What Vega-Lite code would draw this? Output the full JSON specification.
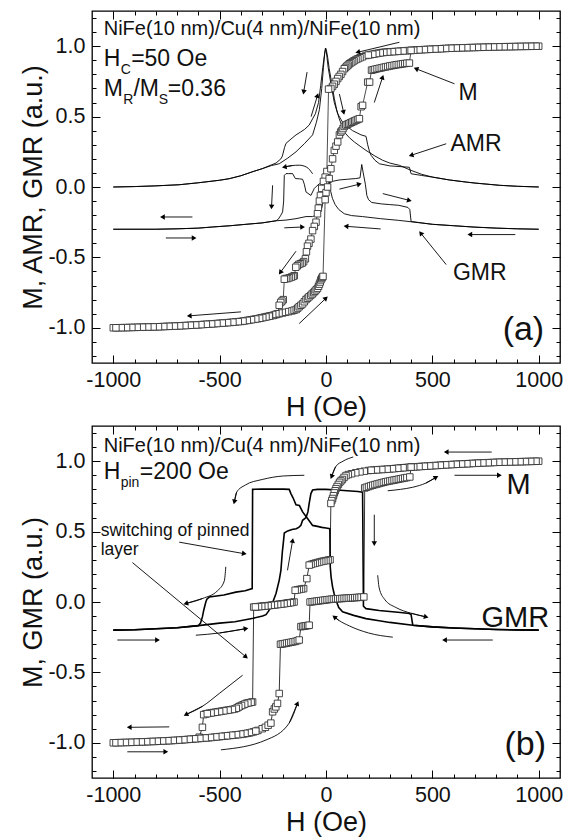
{
"$schema":"https://vega.github.io/schema/vega-lite/v6.json",
"background":"white",
"padding":{"left":19,"top":9,"right":0,"bottom":0},
"spacing":2,
"config":{"font":"Liberation Sans","view":{"stroke":"#000","strokeWidth":1.3},
"axis":{"grid":false,"domain":false,"labelFont":"Liberation Sans","labelFontSize":21.5,"labelColor":"#111","titleFont":"Liberation Sans","titleFontSize":27,"titleFontWeight":"normal","titleColor":"#111","tickColor":"#000","tickWidth":1},
"text":{"font":"Liberation Sans","color":"#111"}},
"datasets":{
"aM":[
{"s":"D","h":1000,"v":1},{"s":"D","h":975,"v":0.9995},{"s":"D","h":950,"v":0.999},{"s":"D","h":925,"v":0.9985},{"s":"D","h":900,"v":0.998},{"s":"D","h":875,"v":0.997},{"s":"D","h":850,"v":0.9965},{"s":"D","h":825,"v":0.996},{"s":"D","h":800,"v":0.995},{"s":"D","h":775,"v":0.994},{"s":"D","h":750,"v":0.993},{"s":"D","h":725,"v":0.992},{"s":"D","h":700,"v":0.991},{"s":"D","h":675,"v":0.99},{"s":"D","h":650,"v":0.989},{"s":"D","h":625,"v":0.988},{"s":"D","h":600,"v":0.986},{"s":"D","h":575,"v":0.985},{"s":"D","h":550,"v":0.983},{"s":"D","h":525,"v":0.981},{"s":"D","h":500,"v":0.979},{"s":"D","h":475,"v":0.977},{"s":"D","h":450,"v":0.975},{"s":"D","h":425,"v":0.973},{"s":"D","h":400,"v":0.97},{"s":"D","h":375,"v":0.968},{"s":"D","h":350,"v":0.965},{"s":"D","h":325,"v":0.962},{"s":"D","h":300,"v":0.96},{"s":"D","h":280,"v":0.957},{"s":"D","h":265,"v":0.955},{"s":"D","h":245,"v":0.95},{"s":"D","h":230,"v":0.946},{"s":"D","h":210,"v":0.94},{"s":"D","h":188,"v":0.934},{"s":"D","h":172,"v":0.925},{"s":"D","h":160,"v":0.918},{"s":"D","h":150,"v":0.911},{"s":"D","h":141,"v":0.905},{"s":"D","h":132,"v":0.897},{"s":"D","h":125,"v":0.89},{"s":"D","h":117,"v":0.882},{"s":"D","h":110,"v":0.875},{"s":"D","h":104,"v":0.866},{"s":"D","h":98,"v":0.858},{"s":"D","h":92,"v":0.849},{"s":"D","h":86,"v":0.84},{"s":"D","h":78,"v":0.82},{"s":"D","h":70,"v":0.8},{"s":"D","h":62,"v":0.785},{"s":"D","h":55,"v":0.77},{"s":"D","h":47,"v":0.75},{"s":"D","h":39,"v":0.73},{"s":"D","h":31,"v":0.715},{"s":"D","h":23,"v":0.7},{"s":"D","h":12,"v":0.695},{"s":"D","h":4,"v":0.11},{"s":"D","h":-4,"v":0.07},{"s":"D","h":-12,"v":0.04},{"s":"D","h":-20,"v":-0.01},{"s":"D","h":-26,"v":-0.06},{"s":"D","h":-31,"v":-0.1},{"s":"D","h":-36,"v":-0.15},{"s":"D","h":-40,"v":-0.19},{"s":"D","h":-47,"v":-0.25},{"s":"D","h":-55,"v":-0.28},{"s":"D","h":-63,"v":-0.31},{"s":"D","h":-71,"v":-0.37},{"s":"D","h":-80,"v":-0.4},{"s":"D","h":-87,"v":-0.42},{"s":"D","h":-92,"v":-0.46},{"s":"D","h":-97,"v":-0.51},{"s":"D","h":-105,"v":-0.53},{"s":"D","h":-112,"v":-0.54},{"s":"D","h":-120,"v":-0.545},{"s":"D","h":-128,"v":-0.55},{"s":"D","h":-135,"v":-0.56},{"s":"D","h":-142,"v":-0.57},{"s":"D","h":-149,"v":-0.63},{"s":"D","h":-155,"v":-0.635},{"s":"D","h":-163,"v":-0.64},{"s":"D","h":-172,"v":-0.645},{"s":"D","h":-180,"v":-0.65},{"s":"D","h":-188,"v":-0.65},{"s":"D","h":-196,"v":-0.655},{"s":"D","h":-201,"v":-0.8},{"s":"D","h":-207,"v":-0.81},{"s":"D","h":-213,"v":-0.82},{"s":"D","h":-220,"v":-0.84},{"s":"D","h":-226,"v":-0.9},{"s":"D","h":-235,"v":-0.905},{"s":"D","h":-245,"v":-0.91},{"s":"D","h":-260,"v":-0.915},{"s":"D","h":-275,"v":-0.92},{"s":"D","h":-290,"v":-0.925},{"s":"D","h":-305,"v":-0.93},{"s":"D","h":-320,"v":-0.935},{"s":"D","h":-340,"v":-0.94},{"s":"D","h":-360,"v":-0.945},{"s":"D","h":-380,"v":-0.95},{"s":"D","h":-400,"v":-0.955},{"s":"D","h":-425,"v":-0.958},{"s":"D","h":-450,"v":-0.962},{"s":"D","h":-475,"v":-0.965},{"s":"D","h":-500,"v":-0.968},{"s":"D","h":-525,"v":-0.971},{"s":"D","h":-550,"v":-0.974},{"s":"D","h":-575,"v":-0.976},{"s":"D","h":-600,"v":-0.979},{"s":"D","h":-625,"v":-0.981},{"s":"D","h":-650,"v":-0.983},{"s":"D","h":-675,"v":-0.985},{"s":"D","h":-700,"v":-0.987},{"s":"D","h":-725,"v":-0.989},{"s":"D","h":-750,"v":-0.99},{"s":"D","h":-775,"v":-0.992},{"s":"D","h":-800,"v":-0.993},{"s":"D","h":-825,"v":-0.994},{"s":"D","h":-850,"v":-0.995},{"s":"D","h":-875,"v":-0.996},{"s":"D","h":-900,"v":-0.997},{"s":"D","h":-925,"v":-0.998},{"s":"D","h":-950,"v":-0.999},{"s":"D","h":-975,"v":-0.9995},{"s":"D","h":-1000,"v":-1},
{"s":"D","h":987.5,"v":0.9998},{"s":"D","h":962.5,"v":0.9993},{"s":"D","h":937.5,"v":0.9988},{"s":"D","h":912.5,"v":0.9983},{"s":"D","h":887.5,"v":0.9975},{"s":"D","h":862.5,"v":0.9968},{"s":"D","h":837.5,"v":0.9963},{"s":"D","h":812.5,"v":0.9955},{"s":"D","h":787.5,"v":0.9945},{"s":"D","h":762.5,"v":0.9935},{"s":"D","h":737.5,"v":0.9925},{"s":"D","h":712.5,"v":0.9915},{"s":"D","h":687.5,"v":0.9905},{"s":"D","h":662.5,"v":0.9895},{"s":"D","h":637.5,"v":0.9885},{"s":"D","h":612.5,"v":0.987},{"s":"D","h":587.5,"v":0.9855},{"s":"D","h":562.5,"v":0.984},{"s":"D","h":537.5,"v":0.982},{"s":"D","h":512.5,"v":0.98},{"s":"D","h":487.5,"v":0.978},{"s":"D","h":462.5,"v":0.976},{"s":"D","h":437.5,"v":0.974},{"s":"D","h":412.5,"v":0.9715},{"s":"D","h":387.5,"v":0.969},{"s":"D","h":362.5,"v":0.9665},{"s":"D","h":337.5,"v":0.9635},{"s":"D","h":312.5,"v":0.961},{"s":"D","h":290,"v":0.9585},{"s":"D","h":272,"v":0.956},{"s":"D","h":255,"v":0.9525},{"s":"D","h":237,"v":0.948},{"s":"D","h":220,"v":0.943},{"s":"D","h":199,"v":0.937},
{"s":"D","h":-250,"v":-0.9125},{"s":"D","h":-267,"v":-0.9175},{"s":"D","h":-282,"v":-0.9225},{"s":"D","h":-297,"v":-0.9275},{"s":"D","h":-312,"v":-0.9325},{"s":"D","h":-330,"v":-0.9375},{"s":"D","h":-350,"v":-0.9425},{"s":"D","h":-370,"v":-0.9475},{"s":"D","h":-390,"v":-0.9525},{"s":"D","h":-412.5,"v":-0.9565},{"s":"D","h":-437.5,"v":-0.96},{"s":"D","h":-462.5,"v":-0.9635},{"s":"D","h":-487.5,"v":-0.9665},{"s":"D","h":-512.5,"v":-0.9695},{"s":"D","h":-537.5,"v":-0.9725},{"s":"D","h":-562.5,"v":-0.975},{"s":"D","h":-587.5,"v":-0.9775},{"s":"D","h":-612.5,"v":-0.98},{"s":"D","h":-637.5,"v":-0.982},{"s":"D","h":-662.5,"v":-0.984},{"s":"D","h":-687.5,"v":-0.986},{"s":"D","h":-712.5,"v":-0.988},{"s":"D","h":-737.5,"v":-0.9895},{"s":"D","h":-762.5,"v":-0.991},{"s":"D","h":-787.5,"v":-0.9925},{"s":"D","h":-812.5,"v":-0.9935},{"s":"D","h":-837.5,"v":-0.9945},{"s":"D","h":-862.5,"v":-0.9955},{"s":"D","h":-887.5,"v":-0.9965},{"s":"D","h":-912.5,"v":-0.9975},{"s":"D","h":-937.5,"v":-0.9985},{"s":"D","h":-962.5,"v":-0.9992},{"s":"D","h":-987.5,"v":-0.9998},
{"s":"A","h":-235,"v":-0.905},{"s":"A","h":-220,"v":-0.9},{"s":"A","h":-205,"v":-0.895},{"s":"A","h":-190,"v":-0.89},{"s":"A","h":-175,"v":-0.885},{"s":"A","h":-160,"v":-0.88},{"s":"A","h":-150,"v":-0.875},{"s":"A","h":-140,"v":-0.87},{"s":"A","h":-133,"v":-0.86},{"s":"A","h":-126,"v":-0.85},{"s":"A","h":-118,"v":-0.84},{"s":"A","h":-110,"v":-0.83},{"s":"A","h":-102,"v":-0.815},{"s":"A","h":-94,"v":-0.8},{"s":"A","h":-87,"v":-0.79},{"s":"A","h":-80,"v":-0.78},{"s":"A","h":-72,"v":-0.77},{"s":"A","h":-65,"v":-0.76},{"s":"A","h":-58,"v":-0.75},{"s":"A","h":-52,"v":-0.74},{"s":"A","h":-46,"v":-0.73},{"s":"A","h":-40,"v":-0.72},{"s":"A","h":-35,"v":-0.705},{"s":"A","h":-31,"v":-0.69},{"s":"A","h":-27,"v":-0.675},{"s":"A","h":-24,"v":-0.66},{"s":"A","h":-20,"v":-0.65},{"s":"A","h":-17,"v":-0.64},{"s":"A","h":-14,"v":-0.635},{"s":"A","h":-4,"v":-0.09},{"s":"A","h":0,"v":-0.04},{"s":"A","h":7.5,"v":0},{"s":"A","h":15,"v":0.06},{"s":"A","h":23,"v":0.13},{"s":"A","h":31,"v":0.2},{"s":"A","h":39,"v":0.26},{"s":"A","h":47,"v":0.29},{"s":"A","h":55,"v":0.32},{"s":"A","h":63,"v":0.37},{"s":"A","h":69,"v":0.39},{"s":"A","h":75,"v":0.4},{"s":"A","h":80,"v":0.415},{"s":"A","h":86,"v":0.43},{"s":"A","h":93,"v":0.44},{"s":"A","h":100,"v":0.445},{"s":"A","h":107,"v":0.45},{"s":"A","h":114,"v":0.455},{"s":"A","h":121,"v":0.46},{"s":"A","h":128,"v":0.465},{"s":"A","h":135,"v":0.47},{"s":"A","h":142,"v":0.475},{"s":"A","h":150,"v":0.48},{"s":"A","h":157,"v":0.485},{"s":"A","h":165,"v":0.57},{"s":"A","h":172,"v":0.58},{"s":"A","h":196,"v":0.745},{"s":"A","h":205,"v":0.745},{"s":"A","h":214,"v":0.83},{"s":"A","h":222,"v":0.833},{"s":"A","h":230,"v":0.836},{"s":"A","h":240,"v":0.84},{"s":"A","h":250,"v":0.843},{"s":"A","h":260,"v":0.846},{"s":"A","h":270,"v":0.85},{"s":"A","h":280,"v":0.853},{"s":"A","h":290,"v":0.856},{"s":"A","h":300,"v":0.86},{"s":"A","h":310,"v":0.862},{"s":"A","h":320,"v":0.865},{"s":"A","h":330,"v":0.868},{"s":"A","h":340,"v":0.87},{"s":"A","h":350,"v":0.872},{"s":"A","h":360,"v":0.875},{"s":"A","h":370,"v":0.877},{"s":"A","h":380,"v":0.879},{"s":"A","h":392,"v":0.88},{"s":"A","h":400,"v":0.97}
],
"aL":[
{"s":"AMRd","h":1000,"v":0},{"s":"AMRd","h":900,"v":0.005},{"s":"AMRd","h":816,"v":0.012},{"s":"AMRd","h":700,"v":0.028},{"s":"AMRd","h":659,"v":0.035},{"s":"AMRd","h":580,"v":0.05},{"s":"AMRd","h":502,"v":0.07},{"s":"AMRd","h":450,"v":0.09},{"s":"AMRd","h":400,"v":0.118},{"s":"AMRd","h":345,"v":0.154},{"s":"AMRd","h":300,"v":0.17},{"s":"AMRd","h":266,"v":0.19},{"s":"AMRd","h":230,"v":0.22},{"s":"AMRd","h":188,"v":0.26},{"s":"AMRd","h":160,"v":0.29},{"s":"AMRd","h":133,"v":0.32},{"s":"AMRd","h":110,"v":0.35},{"s":"AMRd","h":86,"v":0.39},{"s":"AMRd","h":62,"v":0.485},{"s":"AMRd","h":50,"v":0.55},{"s":"AMRd","h":39,"v":0.63},{"s":"AMRd","h":28,"v":0.73},{"s":"AMRd","h":15,"v":0.84},{"s":"AMRd","h":8,"v":0.92},{"s":"AMRd","h":2,"v":0.97},{"s":"AMRd","h":-3,"v":0.985},{"s":"AMRd","h":-8,"v":0.93},{"s":"AMRd","h":-15,"v":0.85},{"s":"AMRd","h":-25,"v":0.72},{"s":"AMRd","h":-35,"v":0.6},{"s":"AMRd","h":-50,"v":0.52},{"s":"AMRd","h":-79,"v":0.44},{"s":"AMRd","h":-100,"v":0.41},{"s":"AMRd","h":-120,"v":0.39},{"s":"AMRd","h":-141,"v":0.37},{"s":"AMRd","h":-165,"v":0.34},{"s":"AMRd","h":-188,"v":0.31},{"s":"AMRd","h":-195,"v":0.28},{"s":"AMRd","h":-205,"v":0.22},{"s":"AMRd","h":-212,"v":0.2},{"s":"AMRd","h":-235,"v":0.17},{"s":"AMRd","h":-257,"v":0.157},{"s":"AMRd","h":-300,"v":0.13},{"s":"AMRd","h":-342,"v":0.11},{"s":"AMRd","h":-400,"v":0.08},{"s":"AMRd","h":-455,"v":0.059},{"s":"AMRd","h":-500,"v":0.048},{"s":"AMRd","h":-600,"v":0.03},{"s":"AMRd","h":-690,"v":0.016},{"s":"AMRd","h":-800,"v":0.008},{"s":"AMRd","h":-900,"v":0.003},{"s":"AMRd","h":-1000,"v":0},
{"s":"AMRa","h":-1000,"v":0},{"s":"AMRa","h":-900,"v":0.003},{"s":"AMRa","h":-800,"v":0.008},{"s":"AMRa","h":-690,"v":0.016},{"s":"AMRa","h":-600,"v":0.03},{"s":"AMRa","h":-500,"v":0.048},{"s":"AMRa","h":-455,"v":0.059},{"s":"AMRa","h":-400,"v":0.08},{"s":"AMRa","h":-342,"v":0.11},{"s":"AMRa","h":-300,"v":0.13},{"s":"AMRa","h":-257,"v":0.152},{"s":"AMRa","h":-220,"v":0.165},{"s":"AMRa","h":-180,"v":0.205},{"s":"AMRa","h":-141,"v":0.25},{"s":"AMRa","h":-100,"v":0.31},{"s":"AMRa","h":-63,"v":0.37},{"s":"AMRa","h":-45,"v":0.46},{"s":"AMRa","h":-31,"v":0.55},{"s":"AMRa","h":-20,"v":0.7},{"s":"AMRa","h":-12,"v":0.85},{"s":"AMRa","h":-6,"v":0.95},{"s":"AMRa","h":-1,"v":0.985},{"s":"AMRa","h":4,"v":0.93},{"s":"AMRa","h":10,"v":0.85},{"s":"AMRa","h":20,"v":0.76},{"s":"AMRa","h":39,"v":0.6},{"s":"AMRa","h":55,"v":0.52},{"s":"AMRa","h":78,"v":0.46},{"s":"AMRa","h":100,"v":0.43},{"s":"AMRa","h":125,"v":0.4},{"s":"AMRa","h":165,"v":0.37},{"s":"AMRa","h":188,"v":0.36},{"s":"AMRa","h":196,"v":0.3},{"s":"AMRa","h":205,"v":0.25},{"s":"AMRa","h":212,"v":0.225},{"s":"AMRa","h":230,"v":0.19},{"s":"AMRa","h":251,"v":0.165},{"s":"AMRa","h":300,"v":0.15},{"s":"AMRa","h":376,"v":0.142},{"s":"AMRa","h":392,"v":0.14},{"s":"AMRa","h":400,"v":0.094},{"s":"AMRa","h":450,"v":0.082},{"s":"AMRa","h":502,"v":0.07},{"s":"AMRa","h":580,"v":0.05},{"s":"AMRa","h":659,"v":0.035},{"s":"AMRa","h":700,"v":0.028},{"s":"AMRa","h":816,"v":0.012},{"s":"AMRa","h":900,"v":0.005},{"s":"AMRa","h":1000,"v":0},
{"s":"GMRd","h":1000,"v":-0.3},{"s":"GMRd","h":900,"v":-0.297},{"s":"GMRd","h":800,"v":-0.292},{"s":"GMRd","h":700,"v":-0.285},{"s":"GMRd","h":600,"v":-0.275},{"s":"GMRd","h":500,"v":-0.265},{"s":"GMRd","h":400,"v":-0.247},{"s":"GMRd","h":342,"v":-0.237},{"s":"GMRd","h":257,"v":-0.225},{"s":"GMRd","h":171,"v":-0.21},{"s":"GMRd","h":120,"v":-0.203},{"s":"GMRd","h":86,"v":-0.19},{"s":"GMRd","h":60,"v":-0.16},{"s":"GMRd","h":43,"v":-0.125},{"s":"GMRd","h":30,"v":-0.08},{"s":"GMRd","h":22,"v":-0.03},{"s":"GMRd","h":15,"v":0.05},{"s":"GMRd","h":8,"v":0.14},{"s":"GMRd","h":2,"v":0.1},{"s":"GMRd","h":-3,"v":0.065},{"s":"GMRd","h":-10,"v":0.05},{"s":"GMRd","h":-20,"v":0.03},{"s":"GMRd","h":-31,"v":0.023},{"s":"GMRd","h":-45,"v":0.005},{"s":"GMRd","h":-55,"v":-0.01},{"s":"GMRd","h":-71,"v":-0.06},{"s":"GMRd","h":-94,"v":-0.035},{"s":"GMRd","h":-102,"v":0.02},{"s":"GMRd","h":-110,"v":0.055},{"s":"GMRd","h":-125,"v":0.058},{"s":"GMRd","h":-144,"v":0.06},{"s":"GMRd","h":-157,"v":0.095},{"s":"GMRd","h":-175,"v":0.095},{"s":"GMRd","h":-188,"v":0.095},{"s":"GMRd","h":-196,"v":0.083},{"s":"GMRd","h":-199,"v":-0.1},{"s":"GMRd","h":-204,"v":-0.177},{"s":"GMRd","h":-212,"v":-0.2},{"s":"GMRd","h":-225,"v":-0.23},{"s":"GMRd","h":-235,"v":-0.24},{"s":"GMRd","h":-300,"v":-0.255},{"s":"GMRd","h":-376,"v":-0.265},{"s":"GMRd","h":-450,"v":-0.275},{"s":"GMRd","h":-533,"v":-0.284},{"s":"GMRd","h":-600,"v":-0.292},{"s":"GMRd","h":-700,"v":-0.297},{"s":"GMRd","h":-800,"v":-0.3},{"s":"GMRd","h":-1000,"v":-0.3},
{"s":"GMRa","h":-1000,"v":-0.3},{"s":"GMRa","h":-800,"v":-0.3},{"s":"GMRa","h":-700,"v":-0.297},{"s":"GMRa","h":-600,"v":-0.292},{"s":"GMRa","h":-533,"v":-0.284},{"s":"GMRa","h":-450,"v":-0.275},{"s":"GMRa","h":-376,"v":-0.265},{"s":"GMRa","h":-300,"v":-0.255},{"s":"GMRa","h":-235,"v":-0.24},{"s":"GMRa","h":-188,"v":-0.235},{"s":"GMRa","h":-141,"v":-0.225},{"s":"GMRa","h":-94,"v":-0.21},{"s":"GMRa","h":-63,"v":-0.21},{"s":"GMRa","h":-31,"v":-0.19},{"s":"GMRa","h":-20,"v":-0.15},{"s":"GMRa","h":-10,"v":-0.08},{"s":"GMRa","h":-3,"v":0},{"s":"GMRa","h":3,"v":0.01},{"s":"GMRa","h":10,"v":0.02},{"s":"GMRa","h":30,"v":0.04},{"s":"GMRa","h":62,"v":0.05},{"s":"GMRa","h":100,"v":0.055},{"s":"GMRa","h":140,"v":0.06},{"s":"GMRa","h":160,"v":0.065},{"s":"GMRa","h":168,"v":0.16},{"s":"GMRa","h":175,"v":0.1},{"s":"GMRa","h":185,"v":0.02},{"s":"GMRa","h":192,"v":-0.06},{"s":"GMRa","h":200,"v":-0.09},{"s":"GMRa","h":215,"v":-0.11},{"s":"GMRa","h":260,"v":-0.12},{"s":"GMRa","h":300,"v":-0.125},{"s":"GMRa","h":342,"v":-0.13},{"s":"GMRa","h":385,"v":-0.145},{"s":"GMRa","h":394,"v":-0.16},{"s":"GMRa","h":400,"v":-0.245},{"s":"GMRa","h":450,"v":-0.255},{"s":"GMRa","h":500,"v":-0.265},{"s":"GMRa","h":600,"v":-0.275},{"s":"GMRa","h":700,"v":-0.285},{"s":"GMRa","h":800,"v":-0.292},{"s":"GMRa","h":900,"v":-0.297},{"s":"GMRa","h":1000,"v":-0.3}
],
"aArr":[
{"h":345,"v":1.028,"h2":149,"v2":0.957},{"h":63,"v":0.66,"h2":83,"v2":0.53},{"h":227,"v":0.6,"h2":266,"v2":0.78},{"h":604,"v":0.733,"h2":423,"v2":0.84},{"h":565,"v":0.307,"h2":400,"v2":0.225},{"h":63,"v":-0.015,"h2":157,"v2":0.02},{"h":267,"v":-0.047,"h2":392,"v2":-0.095},{"h":-628,"v":-0.213,"h2":-769,"v2":-0.213},{"h":-753,"v":-0.362,"h2":-620,"v2":-0.362},{"h":-196,"v":-0.29,"h2":-110,"v2":-0.284},{"h":-251,"v":0.012,"h2":-256,"v2":-0.142},{"h":-141,"v":-0.456,"h2":-215,"v2":-0.608},{"h":-400,"v":-0.887,"h2":-643,"v2":-0.915},{"h":-126,"v":-0.97,"h2":0,"v2":-0.79},{"h":-89,"v":0.816,"h2":-105,"v2":0.674},{"h":-70,"v":0.5,"h2":-40,"v2":0.65},{"h":565,"v":-0.551,"h2":445,"v2":-0.327},{"h":890,"v":-0.338,"h2":676,"v2":-0.338},{"h":257,"v":-0.298,"h2":94,"v2":-0.279},{"h":-160,"v":0.152,"h2":-196,"v2":0.142}
],
"aCur":[
{"s":"c1","h":-63,"v":0.094},{"s":"c1","h":-90,"v":0.14},{"s":"c1","h":-126,"v":0.155},{"s":"c1","h":-160,"v":0.152},{"s":"c1","h":-196,"v":0.142}
],
"aTxt":[
{"t":"NiFe(10 nm)/Cu(4 nm)/NiFe(10 nm)","h":-1045,"v":1.076,"k":"hdr"},
{"t":"H","h":-1045,"v":0.857,"k":"main"},{"t":"=50 Oe","h":-916,"v":0.857,"k":"main"},{"t":"C","h":-965,"v":0.804,"k":"sub"},
{"t":"M","h":-1045,"v":0.644,"k":"main"},{"t":"R","h":-953,"v":0.59,"k":"sub"},{"t":"/M","h":-905,"v":0.644,"k":"main"},{"t":"S","h":-786,"v":0.59,"k":"sub"},{"t":"=0.36","h":-744,"v":0.644,"k":"main"},
{"t":"M","h":668,"v":0.62,"k":"lab"},{"t":"AMR","h":705,"v":0.253,"k":"lab"},{"t":"GMR","h":723,"v":-0.658,"k":"lab"},{"t":"(a)","h":928,"v":-1.09,"k":"pan"}
],
"bM":[
{"s":"D","h":1000,"v":1},{"s":"D","h":975,"v":0.999},{"s":"D","h":950,"v":0.998},{"s":"D","h":925,"v":0.997},{"s":"D","h":900,"v":0.996},{"s":"D","h":875,"v":0.995},{"s":"D","h":850,"v":0.994},{"s":"D","h":825,"v":0.993},{"s":"D","h":800,"v":0.992},{"s":"D","h":775,"v":0.99},{"s":"D","h":750,"v":0.989},{"s":"D","h":725,"v":0.987},{"s":"D","h":700,"v":0.985},{"s":"D","h":675,"v":0.983},{"s":"D","h":650,"v":0.981},{"s":"D","h":625,"v":0.979},{"s":"D","h":600,"v":0.977},{"s":"D","h":575,"v":0.975},{"s":"D","h":550,"v":0.973},{"s":"D","h":525,"v":0.97},{"s":"D","h":500,"v":0.968},{"s":"D","h":475,"v":0.965},{"s":"D","h":450,"v":0.963},{"s":"D","h":425,"v":0.96},{"s":"D","h":400,"v":0.958},{"s":"D","h":375,"v":0.955},{"s":"D","h":350,"v":0.952},{"s":"D","h":325,"v":0.948},{"s":"D","h":300,"v":0.945},{"s":"D","h":275,"v":0.942},{"s":"D","h":250,"v":0.94},{"s":"D","h":225,"v":0.937},{"s":"D","h":200,"v":0.934},{"s":"D","h":180,"v":0.929},{"s":"D","h":160,"v":0.924},{"s":"D","h":140,"v":0.918},{"s":"D","h":120,"v":0.911},{"s":"D","h":105,"v":0.905},{"s":"D","h":94,"v":0.898},{"s":"D","h":85,"v":0.885},{"s":"D","h":77,"v":0.87},{"s":"D","h":70,"v":0.86},{"s":"D","h":64,"v":0.85},{"s":"D","h":58,"v":0.835},{"s":"D","h":52,"v":0.82},{"s":"D","h":47,"v":0.805},{"s":"D","h":43,"v":0.79},{"s":"D","h":39,"v":0.775},{"s":"D","h":35,"v":0.755},{"s":"D","h":31,"v":0.735},{"s":"D","h":27,"v":0.72},{"s":"D","h":23,"v":0.7},{"s":"D","h":19,"v":0.3},{"s":"D","h":10,"v":0.297},{"s":"D","h":0,"v":0.294},{"s":"D","h":-10,"v":0.291},{"s":"D","h":-20,"v":0.288},{"s":"D","h":-30,"v":0.284},{"s":"D","h":-40,"v":0.28},{"s":"D","h":-50,"v":0.276},{"s":"D","h":-60,"v":0.272},{"s":"D","h":-70,"v":0.267},{"s":"D","h":-79,"v":0.262},{"s":"D","h":-90,"v":0.166},{"s":"D","h":-105,"v":0.095},{"s":"D","h":-115,"v":0.092},{"s":"D","h":-125,"v":0.089},{"s":"D","h":-135,"v":0.086},{"s":"D","h":-145,"v":0.083},{"s":"D","h":-150,"v":0},{"s":"D","h":-160,"v":-0.003},{"s":"D","h":-175,"v":-0.006},{"s":"D","h":-190,"v":-0.01},{"s":"D","h":-205,"v":-0.013},{"s":"D","h":-220,"v":-0.016},{"s":"D","h":-235,"v":-0.019},{"s":"D","h":-250,"v":-0.022},{"s":"D","h":-265,"v":-0.025},{"s":"D","h":-280,"v":-0.028},{"s":"D","h":-295,"v":-0.03},{"s":"D","h":-310,"v":-0.032},{"s":"D","h":-325,"v":-0.034},{"s":"D","h":-340,"v":-0.036},{"s":"D","h":-345,"v":-0.71},{"s":"D","h":-360,"v":-0.715},{"s":"D","h":-375,"v":-0.72},{"s":"D","h":-390,"v":-0.73},{"s":"D","h":-405,"v":-0.74},{"s":"D","h":-415,"v":-0.75},{"s":"D","h":-430,"v":-0.76},{"s":"D","h":-450,"v":-0.765},{"s":"D","h":-470,"v":-0.77},{"s":"D","h":-490,"v":-0.775},{"s":"D","h":-510,"v":-0.78},{"s":"D","h":-530,"v":-0.785},{"s":"D","h":-550,"v":-0.79},{"s":"D","h":-565,"v":-0.795},{"s":"D","h":-575,"v":-0.8},{"s":"D","h":-581,"v":-0.89},{"s":"D","h":-596,"v":-0.96},
{"s":"D","h":987.5,"v":0.9995},{"s":"D","h":962.5,"v":0.9985},{"s":"D","h":937.5,"v":0.9975},{"s":"D","h":912.5,"v":0.9965},{"s":"D","h":887.5,"v":0.9955},{"s":"D","h":862.5,"v":0.9945},{"s":"D","h":837.5,"v":0.9935},{"s":"D","h":812.5,"v":0.9925},{"s":"D","h":787.5,"v":0.991},{"s":"D","h":762.5,"v":0.9895},{"s":"D","h":737.5,"v":0.988},{"s":"D","h":712.5,"v":0.986},{"s":"D","h":687.5,"v":0.984},{"s":"D","h":662.5,"v":0.982},{"s":"D","h":637.5,"v":0.98},{"s":"D","h":612.5,"v":0.978},{"s":"D","h":587.5,"v":0.976},{"s":"D","h":562.5,"v":0.974},{"s":"D","h":537.5,"v":0.9715},{"s":"D","h":512.5,"v":0.969},{"s":"D","h":487.5,"v":0.9665},{"s":"D","h":462.5,"v":0.964},{"s":"D","h":437.5,"v":0.9615},{"s":"D","h":412.5,"v":0.959},{"s":"D","h":387.5,"v":0.9565},{"s":"D","h":362.5,"v":0.9535},{"s":"D","h":337.5,"v":0.95},{"s":"D","h":312.5,"v":0.9465},{"s":"D","h":287.5,"v":0.9435},{"s":"D","h":262.5,"v":0.941},{"s":"D","h":237.5,"v":0.9385},{"s":"D","h":212.5,"v":0.9355},
{"s":"D","h":-167,"v":-0.005},{"s":"D","h":-182,"v":-0.008},{"s":"D","h":-197,"v":-0.012},{"s":"D","h":-212,"v":-0.015},{"s":"D","h":-227,"v":-0.018},{"s":"D","h":-242,"v":-0.02},{"s":"D","h":-257,"v":-0.023},{"s":"D","h":-272,"v":-0.026},{"s":"D","h":-287,"v":-0.029},{"s":"D","h":-302,"v":-0.031},{"s":"D","h":-317,"v":-0.033},{"s":"D","h":-332,"v":-0.035},
{"s":"D","h":-352,"v":-0.712},{"s":"D","h":-367,"v":-0.717},{"s":"D","h":-382,"v":-0.725},{"s":"D","h":-397,"v":-0.735},{"s":"D","h":-410,"v":-0.745},{"s":"D","h":-422,"v":-0.755},{"s":"D","h":-440,"v":-0.763},{"s":"D","h":-460,"v":-0.768},{"s":"D","h":-480,"v":-0.773},{"s":"D","h":-500,"v":-0.778},{"s":"D","h":-520,"v":-0.783},{"s":"D","h":-540,"v":-0.788},{"s":"D","h":-558,"v":-0.793},
{"s":"A","h":-1000,"v":-1},{"s":"A","h":-975,"v":-0.999},{"s":"A","h":-950,"v":-0.998},{"s":"A","h":-925,"v":-0.997},{"s":"A","h":-900,"v":-0.996},{"s":"A","h":-875,"v":-0.994},{"s":"A","h":-850,"v":-0.993},{"s":"A","h":-825,"v":-0.991},{"s":"A","h":-800,"v":-0.99},{"s":"A","h":-775,"v":-0.988},{"s":"A","h":-750,"v":-0.986},{"s":"A","h":-725,"v":-0.984},{"s":"A","h":-700,"v":-0.982},{"s":"A","h":-675,"v":-0.979},{"s":"A","h":-650,"v":-0.976},{"s":"A","h":-625,"v":-0.973},{"s":"A","h":-600,"v":-0.97},{"s":"A","h":-575,"v":-0.967},{"s":"A","h":-550,"v":-0.964},{"s":"A","h":-525,"v":-0.96},{"s":"A","h":-500,"v":-0.956},{"s":"A","h":-475,"v":-0.952},{"s":"A","h":-450,"v":-0.948},{"s":"A","h":-425,"v":-0.944},{"s":"A","h":-400,"v":-0.94},{"s":"A","h":-380,"v":-0.935},{"s":"A","h":-360,"v":-0.93},{"s":"A","h":-340,"v":-0.922},{"s":"A","h":-320,"v":-0.912},{"s":"A","h":-300,"v":-0.9},{"s":"A","h":-285,"v":-0.89},{"s":"A","h":-272,"v":-0.875},{"s":"A","h":-259,"v":-0.86},{"s":"A","h":-251,"v":-0.78},{"s":"A","h":-243,"v":-0.76},{"s":"A","h":-236,"v":-0.745},{"s":"A","h":-228,"v":-0.72},{"s":"A","h":-220,"v":-0.65},{"s":"A","h":-214,"v":-0.3},{"s":"A","h":-205,"v":-0.298},{"s":"A","h":-195,"v":-0.295},{"s":"A","h":-185,"v":-0.292},{"s":"A","h":-175,"v":-0.289},{"s":"A","h":-165,"v":-0.286},{"s":"A","h":-155,"v":-0.283},{"s":"A","h":-145,"v":-0.28},{"s":"A","h":-135,"v":-0.275},{"s":"A","h":-126,"v":-0.27},{"s":"A","h":-118,"v":-0.175},{"s":"A","h":-110,"v":-0.173},{"s":"A","h":-102,"v":-0.171},{"s":"A","h":-94,"v":-0.169},{"s":"A","h":-86,"v":-0.167},{"s":"A","h":-79,"v":-0.165},{"s":"A","h":-75,"v":0},{"s":"A","h":-65,"v":0.002},{"s":"A","h":-55,"v":0.004},{"s":"A","h":-45,"v":0.006},{"s":"A","h":-35,"v":0.008},{"s":"A","h":-25,"v":0.01},{"s":"A","h":-15,"v":0.012},{"s":"A","h":-5,"v":0.014},{"s":"A","h":5,"v":0.016},{"s":"A","h":15,"v":0.018},{"s":"A","h":25,"v":0.02},{"s":"A","h":35,"v":0.021},{"s":"A","h":45,"v":0.022},{"s":"A","h":55,"v":0.023},{"s":"A","h":65,"v":0.024},{"s":"A","h":75,"v":0.025},{"s":"A","h":85,"v":0.026},{"s":"A","h":95,"v":0.027},{"s":"A","h":105,"v":0.028},{"s":"A","h":115,"v":0.029},{"s":"A","h":125,"v":0.03},{"s":"A","h":135,"v":0.031},{"s":"A","h":145,"v":0.032},{"s":"A","h":155,"v":0.033},{"s":"A","h":165,"v":0.034},{"s":"A","h":178,"v":0.036},{"s":"A","h":182,"v":0.81},{"s":"A","h":190,"v":0.815},{"s":"A","h":200,"v":0.82},{"s":"A","h":210,"v":0.825},{"s":"A","h":220,"v":0.83},{"s":"A","h":230,"v":0.834},{"s":"A","h":240,"v":0.838},{"s":"A","h":250,"v":0.842},{"s":"A","h":260,"v":0.846},{"s":"A","h":270,"v":0.85},{"s":"A","h":280,"v":0.854},{"s":"A","h":290,"v":0.857},{"s":"A","h":300,"v":0.86},{"s":"A","h":310,"v":0.863},{"s":"A","h":320,"v":0.866},{"s":"A","h":330,"v":0.869},{"s":"A","h":340,"v":0.872},{"s":"A","h":350,"v":0.875},{"s":"A","h":360,"v":0.878},{"s":"A","h":370,"v":0.881},{"s":"A","h":380,"v":0.884},{"s":"A","h":394,"v":0.888},{"s":"A","h":400,"v":0.958},
{"s":"A","h":-987.5,"v":-0.9995},{"s":"A","h":-962.5,"v":-0.9985},{"s":"A","h":-937.5,"v":-0.9975},{"s":"A","h":-912.5,"v":-0.9965},{"s":"A","h":-887.5,"v":-0.995},{"s":"A","h":-862.5,"v":-0.9935},{"s":"A","h":-837.5,"v":-0.992},{"s":"A","h":-812.5,"v":-0.9905},{"s":"A","h":-787.5,"v":-0.989},{"s":"A","h":-762.5,"v":-0.987},{"s":"A","h":-737.5,"v":-0.985},{"s":"A","h":-712.5,"v":-0.983},{"s":"A","h":-687.5,"v":-0.9805},{"s":"A","h":-662.5,"v":-0.9775},{"s":"A","h":-637.5,"v":-0.9745},{"s":"A","h":-612.5,"v":-0.9715},{"s":"A","h":-587.5,"v":-0.9685},{"s":"A","h":-562.5,"v":-0.9655},{"s":"A","h":-537.5,"v":-0.962},{"s":"A","h":-512.5,"v":-0.958},{"s":"A","h":-487.5,"v":-0.954},{"s":"A","h":-462.5,"v":-0.95},{"s":"A","h":-437.5,"v":-0.946},{"s":"A","h":-412.5,"v":-0.942},{"s":"A","h":-390,"v":-0.9375},{"s":"A","h":-370,"v":-0.9325},{"s":"A","h":-350,"v":-0.926},{"s":"A","h":-330,"v":-0.917}
],
"bL":[
{"s":"X","h":-1000,"v":-0.2},{"s":"X","h":-900,"v":-0.197},{"s":"X","h":-800,"v":-0.19},{"s":"X","h":-700,"v":-0.183},{"s":"X","h":-600,"v":-0.168},{"s":"X","h":-500,"v":-0.15},{"s":"X","h":-428,"v":-0.14},{"s":"X","h":-342,"v":-0.115},{"s":"X","h":-298,"v":-0.1},{"s":"X","h":-282,"v":-0.09},{"s":"X","h":-270,"v":-0.065},{"s":"X","h":-259,"v":-0.035},{"s":"X","h":-245,"v":0.02},{"s":"X","h":-235,"v":0.06},{"s":"X","h":-220,"v":0.154},{"s":"X","h":-212,"v":0.225},{"s":"X","h":-205,"v":0.36},{"s":"X","h":-201,"v":0.414},{"s":"X","h":-196,"v":0.49},{"s":"X","h":-180,"v":0.505},{"s":"X","h":-160,"v":0.515},{"s":"X","h":-140,"v":0.52},{"s":"X","h":-128,"v":0.53},{"s":"X","h":-118,"v":0.545},{"s":"X","h":-110,"v":0.58},{"s":"X","h":-94,"v":0.6},{"s":"X","h":-85,"v":0.64},{"s":"X","h":-79,"v":0.7},{"s":"X","h":-71,"v":0.77},{"s":"X","h":-63,"v":0.795},{"s":"X","h":-40,"v":0.8},{"s":"X","h":0,"v":0.8},{"s":"X","h":50,"v":0.795},{"s":"X","h":100,"v":0.79},{"s":"X","h":150,"v":0.785},{"s":"X","h":172,"v":0.78},{"s":"X","h":176,"v":-0.03},{"s":"X","h":188,"v":-0.047},{"s":"X","h":250,"v":-0.06},{"s":"X","h":300,"v":-0.068},{"s":"X","h":350,"v":-0.075},{"s":"X","h":392,"v":-0.082},{"s":"X","h":400,"v":-0.09},{"s":"X","h":408,"v":-0.165},{"s":"X","h":500,"v":-0.177},{"s":"X","h":600,"v":-0.185},{"s":"X","h":700,"v":-0.19},{"s":"X","h":800,"v":-0.195},{"s":"X","h":900,"v":-0.198},{"s":"X","h":1000,"v":-0.2},
{"s":"Y","h":1000,"v":-0.2},{"s":"Y","h":900,"v":-0.198},{"s":"Y","h":800,"v":-0.195},{"s":"Y","h":700,"v":-0.19},{"s":"Y","h":600,"v":-0.185},{"s":"Y","h":500,"v":-0.177},{"s":"Y","h":408,"v":-0.165},{"s":"Y","h":300,"v":-0.145},{"s":"Y","h":250,"v":-0.133},{"s":"Y","h":188,"v":-0.118},{"s":"Y","h":130,"v":-0.095},{"s":"Y","h":78,"v":-0.07},{"s":"Y","h":60,"v":-0.04},{"s":"Y","h":47,"v":0.012},{"s":"Y","h":38,"v":0.06},{"s":"Y","h":31,"v":0.106},{"s":"Y","h":24,"v":0.177},{"s":"Y","h":20,"v":0.25},{"s":"Y","h":18,"v":0.52},{"s":"Y","h":0,"v":0.525},{"s":"Y","h":-20,"v":0.53},{"s":"Y","h":-40,"v":0.537},{"s":"Y","h":-63,"v":0.544},{"s":"Y","h":-85,"v":0.59},{"s":"Y","h":-110,"v":0.64},{"s":"Y","h":-125,"v":0.685},{"s":"Y","h":-141,"v":0.69},{"s":"Y","h":-155,"v":0.74},{"s":"Y","h":-165,"v":0.77},{"s":"Y","h":-173,"v":0.8},{"s":"Y","h":-200,"v":0.802},{"s":"Y","h":-250,"v":0.803},{"s":"Y","h":-300,"v":0.802},{"s":"Y","h":-345,"v":0.8},{"s":"Y","h":-347,"v":0.095},{"s":"Y","h":-380,"v":0.08},{"s":"Y","h":-424,"v":0.07},{"s":"Y","h":-480,"v":0.05},{"s":"Y","h":-549,"v":0.035},{"s":"Y","h":-560,"v":0.02},{"s":"Y","h":-565,"v":0},{"s":"Y","h":-575,"v":-0.06},{"s":"Y","h":-581,"v":-0.106},{"s":"Y","h":-590,"v":-0.15},{"s":"Y","h":-600,"v":-0.168},{"s":"Y","h":-700,"v":-0.183},{"s":"Y","h":-800,"v":-0.19},{"s":"Y","h":-900,"v":-0.197},{"s":"Y","h":-1000,"v":-0.2}
],
"bArr":[
{"h":779,"v":1.065,"h2":565,"v2":1.065},{"h":604,"v":0.9,"h2":815,"v2":0.9},{"h":227,"v":0.62,"h2":227,"v2":0.414},{"h":784,"v":-0.27,"h2":557,"v2":-0.27},{"h":-690,"v":0.425,"h2":-384,"v2":0.343},{"h":-910,"v":0.28,"h2":-376,"v2":-0.39},{"h":-981,"v":-0.27,"h2":-792,"v2":-0.27},{"h":-181,"v":0.225,"h2":-157,"v2":0.437},{"h":-737,"v":-0.887,"h2":-925,"v2":-0.89},{"h":-934,"v":-1.064,"h2":-753,"v2":-1.064},
{"h":45,"v":0.96,"h2":26,"v2":0.89},{"h":470,"v":0.845,"h2":518,"v2":0.886},{"h":400,"v":-0.08,"h2":471,"v2":-0.106},{"h":60,"v":-0.13,"h2":39,"v2":-0.106},{"h":-420,"v":0.78,"h2":-431,"v2":0.71},{"h":-580,"v":0.025,"h2":-659,"v2":-0.011},{"h":-500,"v":-0.22,"h2":-376,"v2":-0.189},{"h":-580,"v":-0.74,"h2":-659,"v2":-0.8},{"h":-173,"v":-0.86,"h2":-134,"v2":-0.72}
],
"bCur":[
{"s":"c1","h":128,"v":1.03},{"s":"c1","h":80,"v":1.0},{"s":"c1","h":45,"v":0.96},{"s":"c1","h":26,"v":0.89},
{"s":"c2","h":290,"v":0.79},{"s":"c2","h":350,"v":0.8},{"s":"c2","h":408,"v":0.815},{"s":"c2","h":470,"v":0.845},{"s":"c2","h":518,"v":0.886},
{"s":"c3","h":243,"v":0.19},{"s":"c3","h":250,"v":0.1},{"s":"c3","h":275,"v":0.02},{"s":"c3","h":330,"v":-0.04},{"s":"c3","h":400,"v":-0.08},{"s":"c3","h":471,"v":-0.106},
{"s":"c4","h":314,"v":-0.25},{"s":"c4","h":200,"v":-0.22},{"s":"c4","h":110,"v":-0.17},{"s":"c4","h":60,"v":-0.13},{"s":"c4","h":39,"v":-0.106},
{"s":"c5","h":-102,"v":0.9},{"s":"c5","h":-200,"v":0.895},{"s":"c5","h":-300,"v":0.87},{"s":"c5","h":-380,"v":0.83},{"s":"c5","h":-420,"v":0.78},{"s":"c5","h":-431,"v":0.71},
{"s":"c6","h":-471,"v":0.25},{"s":"c6","h":-478,"v":0.15},{"s":"c6","h":-510,"v":0.08},{"s":"c6","h":-580,"v":0.025},{"s":"c6","h":-659,"v":-0.011},
{"s":"c7","h":-612,"v":-0.236},{"s":"c7","h":-500,"v":-0.22},{"s":"c7","h":-376,"v":-0.189},
{"s":"c8","h":-392,"v":-0.52},{"s":"c8","h":-502,"v":-0.65},{"s":"c8","h":-580,"v":-0.74},{"s":"c8","h":-659,"v":-0.8},
{"s":"c9","h":-494,"v":-1.05},{"s":"c9","h":-282,"v":-0.98},{"s":"c9","h":-173,"v":-0.86},{"s":"c9","h":-134,"v":-0.72}
],
"bTxt":[
{"t":"NiFe(10 nm)/Cu(4 nm)/NiFe(10 nm)","h":-1045,"v":1.065,"k":"hdr"},
{"t":"H","h":-1045,"v":0.875,"k":"main"},{"t":"=200 Oe","h":-875,"v":0.875,"k":"main"},{"t":"pin","h":-965,"v":0.816,"k":"sub"},
{"t":"switching of pinned","h":-1059,"v":0.47,"k":"note"},{"t":"layer","h":-1059,"v":0.336,"k":"note"},
{"t":"M","h":905,"v":0.77,"k":"lab"},{"t":"GMR","h":890,"v":-0.177,"k":"lab"},{"t":"(b)","h":937,"v":-1.09,"k":"pan"}
]
},
"vconcat":[
{
"width":468,"height":352,
"resolve":{"axis":{"x":"independent","y":"independent"}},
"layer":[
{"data":{"name":"aL"},"mark":{"type":"line","strokeWidth":0.9,"color":"#000"},
"encoding":{
"x":{"field":"h","type":"quantitative","scale":{"domain":[-1100,1100],"nice":false,"zero":false},"axis":{"orient":"bottom","values":[-1000,-500,0,500,1000],"labelExpr":"datum.value < 0 ? '-' + format(-datum.value, 'd') : format(datum.value, 'd')","ticks":false,"labelPadding":6,"title":"H (Oe)","titlePadding":4}},
"y":{"field":"v","type":"quantitative","scale":{"domain":[-1.25,1.25],"nice":false,"zero":false},"axis":{"orient":"left","values":[-1,-0.5,0,0.5,1],"labelExpr":"datum.value < 0 ? '-' + format(-datum.value, '.1f') : format(datum.value, '.1f')","ticks":false,"labelPadding":7,"title":"M, AMR, GMR (a.u.)","titlePadding":0}},
"detail":{"field":"s"}}},
{"data":{"name":"aM"},"mark":{"type":"line","strokeWidth":0.7,"color":"#000"},
"encoding":{
"x":{"field":"h","type":"quantitative","scale":{"domain":[-1100,1100],"nice":false,"zero":false},"axis":{"orient":"top","offset":-352,"values":[-1000,-500,0,500,1000],"labels":false,"ticks":true,"tickSize":8,"title":null}},
"y":{"field":"v","type":"quantitative","scale":{"domain":[-1.25,1.25],"nice":false,"zero":false},"axis":{"orient":"right","offset":-468,"values":[-1,-0.5,0,0.5,1],"labels":false,"ticks":true,"tickSize":8,"title":null}},
"detail":{"field":"s"}}},
{"data":{"name":"aM"},"mark":{"type":"point","shape":"square","size":42,"fill":"#ffffff","stroke":"#333333","strokeWidth":0.9,"opacity":1,"fillOpacity":1},
"encoding":{
"x":{"field":"h","type":"quantitative","scale":{"domain":[-1100,1100],"nice":false,"zero":false},"axis":{"orient":"top","offset":-352,"values":[-1000,-900,-800,-700,-600,-500,-400,-300,-200,-100,0,100,200,300,400,500,600,700,800,900,1000],"labels":false,"ticks":true,"tickSize":4,"title":null}},
"y":{"field":"v","type":"quantitative","scale":{"domain":[-1.25,1.25],"nice":false,"zero":false},"axis":{"orient":"right","offset":-468,"values":[-1.2,-1.1,-1,-0.9,-0.8,-0.7,-0.6,-0.5,-0.4,-0.3,-0.2,-0.1,0,0.1,0.2,0.3,0.4,0.5,0.6,0.7,0.8,0.9,1,1.1,1.2],"labels":false,"ticks":true,"tickSize":4,"title":null}}}},
{"data":{"name":"aArr"},"mark":{"type":"rule","strokeWidth":0.9,"color":"#000"},
"encoding":{
"x":{"field":"h","type":"quantitative","scale":{"domain":[-1100,1100],"nice":false,"zero":false},"axis":{"orient":"bottom","offset":-352,"values":[-1000,-500,0,500,1000],"labels":false,"ticks":true,"tickSize":8,"title":null}},
"y":{"field":"v","type":"quantitative","scale":{"domain":[-1.25,1.25],"nice":false,"zero":false},"axis":{"orient":"left","offset":-468,"values":[-1,-0.5,0,0.5,1],"labels":false,"ticks":true,"tickSize":8,"title":null}},
"x2":{"field":"h2"},"y2":{"field":"v2"}}},
{"data":{"name":"aArr"},"transform":[{"calculate":"atan2(-(datum.v2-datum.v)*140.8,(datum.h2-datum.h)*0.2127)*180/PI","as":"ang"}],
"mark":{"type":"point","shape":"triangle-right","size":30,"filled":true,"color":"#000","opacity":1},
"encoding":{
"x":{"field":"h2","type":"quantitative","scale":{"domain":[-1100,1100],"nice":false,"zero":false},"axis":{"orient":"bottom","offset":-352,"values":[-1000,-900,-800,-700,-600,-500,-400,-300,-200,-100,0,100,200,300,400,500,600,700,800,900,1000],"labels":false,"ticks":true,"tickSize":4,"title":null}},
"y":{"field":"v2","type":"quantitative","scale":{"domain":[-1.25,1.25],"nice":false,"zero":false},"axis":{"orient":"left","offset":-468,"values":[-1.2,-1.1,-1,-0.9,-0.8,-0.7,-0.6,-0.5,-0.4,-0.3,-0.2,-0.1,0,0.1,0.2,0.3,0.4,0.5,0.6,0.7,0.8,0.9,1,1.1,1.2],"labels":false,"ticks":true,"tickSize":4,"title":null}},
"angle":{"field":"ang","type":"quantitative","scale":null}}},
{"data":{"name":"aCur"},"mark":{"type":"line","strokeWidth":0.9,"color":"#000","interpolate":"monotone"},
"encoding":{"x":{"field":"h","type":"quantitative","scale":{"domain":[-1100,1100],"nice":false,"zero":false},"axis":null},"y":{"field":"v","type":"quantitative","scale":{"domain":[-1.25,1.25],"nice":false,"zero":false},"axis":null},"detail":{"field":"s"}}},
{"data":{"name":"aTxt"},"transform":[{"filter":"datum.k == 'hdr'"}],"mark":{"type":"text","fontSize":20,"align":"left","baseline":"alphabetic","color":"#111"},
"encoding":{"x":{"field":"h","type":"quantitative","scale":{"domain":[-1100,1100],"nice":false,"zero":false},"axis":null},"y":{"field":"v","type":"quantitative","scale":{"domain":[-1.25,1.25],"nice":false,"zero":false},"axis":null},"text":{"field":"t"}}},
{"data":{"name":"aTxt"},"transform":[{"filter":"datum.k == 'main'"}],"mark":{"type":"text","fontSize":23,"align":"left","baseline":"alphabetic","color":"#111"},
"encoding":{"x":{"field":"h","type":"quantitative","scale":{"domain":[-1100,1100],"nice":false,"zero":false},"axis":null},"y":{"field":"v","type":"quantitative","scale":{"domain":[-1.25,1.25],"nice":false,"zero":false},"axis":null},"text":{"field":"t"}}},
{"data":{"name":"aTxt"},"transform":[{"filter":"datum.k == 'sub'"}],"mark":{"type":"text","fontSize":14,"align":"left","baseline":"alphabetic","color":"#111"},
"encoding":{"x":{"field":"h","type":"quantitative","scale":{"domain":[-1100,1100],"nice":false,"zero":false},"axis":null},"y":{"field":"v","type":"quantitative","scale":{"domain":[-1.25,1.25],"nice":false,"zero":false},"axis":null},"text":{"field":"t"}}},
{"data":{"name":"aTxt"},"transform":[{"filter":"datum.k == 'lab'"}],"mark":{"type":"text","fontSize":23,"align":"center","baseline":"alphabetic","color":"#111"},
"encoding":{"x":{"field":"h","type":"quantitative","scale":{"domain":[-1100,1100],"nice":false,"zero":false},"axis":null},"y":{"field":"v","type":"quantitative","scale":{"domain":[-1.25,1.25],"nice":false,"zero":false},"axis":null},"text":{"field":"t"}}},
{"data":{"name":"aTxt"},"transform":[{"filter":"datum.k == 'pan'"}],"mark":{"type":"text","fontSize":34,"align":"center","baseline":"alphabetic","color":"#111"},
"encoding":{"x":{"field":"h","type":"quantitative","scale":{"domain":[-1100,1100],"nice":false,"zero":false},"axis":null},"y":{"field":"v","type":"quantitative","scale":{"domain":[-1.25,1.25],"nice":false,"zero":false},"axis":null},"text":{"field":"t"}}}
]
},
{
"width":468,"height":352,
"resolve":{"axis":{"x":"independent","y":"independent"}},
"layer":[
{"data":{"name":"bL"},"mark":{"type":"line","strokeWidth":1.6,"color":"#000"},
"encoding":{
"x":{"field":"h","type":"quantitative","scale":{"domain":[-1100,1100],"nice":false,"zero":false},"axis":{"orient":"bottom","values":[-1000,-500,0,500,1000],"labelExpr":"datum.value < 0 ? '-' + format(-datum.value, 'd') : format(datum.value, 'd')","ticks":false,"labelPadding":6,"title":"H (Oe)","titlePadding":4}},
"y":{"field":"v","type":"quantitative","scale":{"domain":[-1.25,1.25],"nice":false,"zero":false},"axis":{"orient":"left","values":[-1,-0.5,0,0.5,1],"labelExpr":"datum.value < 0 ? '-' + format(-datum.value, '.1f') : format(datum.value, '.1f')","ticks":false,"labelPadding":7,"title":"M, GMR (a.u.)","titlePadding":0}},
"detail":{"field":"s"}}},
{"data":{"name":"bM"},"mark":{"type":"line","strokeWidth":0.8,"color":"#000"},
"encoding":{
"x":{"field":"h","type":"quantitative","scale":{"domain":[-1100,1100],"nice":false,"zero":false},"axis":{"orient":"top","offset":-352,"values":[-1000,-500,0,500,1000],"labels":false,"ticks":true,"tickSize":8,"title":null}},
"y":{"field":"v","type":"quantitative","scale":{"domain":[-1.25,1.25],"nice":false,"zero":false},"axis":{"orient":"right","offset":-468,"values":[-1,-0.5,0,0.5,1],"labels":false,"ticks":true,"tickSize":8,"title":null}},
"detail":{"field":"s"}}},
{"data":{"name":"bM"},"mark":{"type":"point","shape":"square","size":42,"fill":"#ffffff","stroke":"#333333","strokeWidth":0.9,"opacity":1,"fillOpacity":1},
"encoding":{
"x":{"field":"h","type":"quantitative","scale":{"domain":[-1100,1100],"nice":false,"zero":false},"axis":{"orient":"top","offset":-352,"values":[-1000,-900,-800,-700,-600,-500,-400,-300,-200,-100,0,100,200,300,400,500,600,700,800,900,1000],"labels":false,"ticks":true,"tickSize":4,"title":null}},
"y":{"field":"v","type":"quantitative","scale":{"domain":[-1.25,1.25],"nice":false,"zero":false},"axis":{"orient":"right","offset":-468,"values":[-1.2,-1.1,-1,-0.9,-0.8,-0.7,-0.6,-0.5,-0.4,-0.3,-0.2,-0.1,0,0.1,0.2,0.3,0.4,0.5,0.6,0.7,0.8,0.9,1,1.1,1.2],"labels":false,"ticks":true,"tickSize":4,"title":null}}}},
{"data":{"name":"bArr"},"mark":{"type":"rule","strokeWidth":0.9,"color":"#000"},
"encoding":{
"x":{"field":"h","type":"quantitative","scale":{"domain":[-1100,1100],"nice":false,"zero":false},"axis":{"orient":"bottom","offset":-352,"values":[-1000,-500,0,500,1000],"labels":false,"ticks":true,"tickSize":8,"title":null}},
"y":{"field":"v","type":"quantitative","scale":{"domain":[-1.25,1.25],"nice":false,"zero":false},"axis":{"orient":"left","offset":-468,"values":[-1,-0.5,0,0.5,1],"labels":false,"ticks":true,"tickSize":8,"title":null}},
"x2":{"field":"h2"},"y2":{"field":"v2"}}},
{"data":{"name":"bArr"},"transform":[{"calculate":"atan2(-(datum.v2-datum.v)*140.8,(datum.h2-datum.h)*0.2127)*180/PI","as":"ang"}],
"mark":{"type":"point","shape":"triangle-right","size":30,"filled":true,"color":"#000","opacity":1},
"encoding":{
"x":{"field":"h2","type":"quantitative","scale":{"domain":[-1100,1100],"nice":false,"zero":false},"axis":{"orient":"bottom","offset":-352,"values":[-1000,-900,-800,-700,-600,-500,-400,-300,-200,-100,0,100,200,300,400,500,600,700,800,900,1000],"labels":false,"ticks":true,"tickSize":4,"title":null}},
"y":{"field":"v2","type":"quantitative","scale":{"domain":[-1.25,1.25],"nice":false,"zero":false},"axis":{"orient":"left","offset":-468,"values":[-1.2,-1.1,-1,-0.9,-0.8,-0.7,-0.6,-0.5,-0.4,-0.3,-0.2,-0.1,0,0.1,0.2,0.3,0.4,0.5,0.6,0.7,0.8,0.9,1,1.1,1.2],"labels":false,"ticks":true,"tickSize":4,"title":null}},
"angle":{"field":"ang","type":"quantitative","scale":null}}},
{"data":{"name":"bCur"},"mark":{"type":"line","strokeWidth":0.9,"color":"#000","interpolate":"monotone"},
"encoding":{"x":{"field":"h","type":"quantitative","scale":{"domain":[-1100,1100],"nice":false,"zero":false},"axis":null},"y":{"field":"v","type":"quantitative","scale":{"domain":[-1.25,1.25],"nice":false,"zero":false},"axis":null},"detail":{"field":"s"}}},
{"data":{"name":"bTxt"},"transform":[{"filter":"datum.k == 'hdr'"}],"mark":{"type":"text","fontSize":20,"align":"left","baseline":"alphabetic","color":"#111"},
"encoding":{"x":{"field":"h","type":"quantitative","scale":{"domain":[-1100,1100],"nice":false,"zero":false},"axis":null},"y":{"field":"v","type":"quantitative","scale":{"domain":[-1.25,1.25],"nice":false,"zero":false},"axis":null},"text":{"field":"t"}}},
{"data":{"name":"bTxt"},"transform":[{"filter":"datum.k == 'main'"}],"mark":{"type":"text","fontSize":23,"align":"left","baseline":"alphabetic","color":"#111"},
"encoding":{"x":{"field":"h","type":"quantitative","scale":{"domain":[-1100,1100],"nice":false,"zero":false},"axis":null},"y":{"field":"v","type":"quantitative","scale":{"domain":[-1.25,1.25],"nice":false,"zero":false},"axis":null},"text":{"field":"t"}}},
{"data":{"name":"bTxt"},"transform":[{"filter":"datum.k == 'sub'"}],"mark":{"type":"text","fontSize":14,"align":"left","baseline":"alphabetic","color":"#111"},
"encoding":{"x":{"field":"h","type":"quantitative","scale":{"domain":[-1100,1100],"nice":false,"zero":false},"axis":null},"y":{"field":"v","type":"quantitative","scale":{"domain":[-1.25,1.25],"nice":false,"zero":false},"axis":null},"text":{"field":"t"}}},
{"data":{"name":"bTxt"},"transform":[{"filter":"datum.k == 'note'"}],"mark":{"type":"text","fontSize":17.5,"align":"left","baseline":"alphabetic","color":"#111"},
"encoding":{"x":{"field":"h","type":"quantitative","scale":{"domain":[-1100,1100],"nice":false,"zero":false},"axis":null},"y":{"field":"v","type":"quantitative","scale":{"domain":[-1.25,1.25],"nice":false,"zero":false},"axis":null},"text":{"field":"t"}}},
{"data":{"name":"bTxt"},"transform":[{"filter":"datum.k == 'lab'"}],"mark":{"type":"text","fontSize":29,"align":"center","baseline":"alphabetic","color":"#111"},
"encoding":{"x":{"field":"h","type":"quantitative","scale":{"domain":[-1100,1100],"nice":false,"zero":false},"axis":null},"y":{"field":"v","type":"quantitative","scale":{"domain":[-1.25,1.25],"nice":false,"zero":false},"axis":null},"text":{"field":"t"}}},
{"data":{"name":"bTxt"},"transform":[{"filter":"datum.k == 'pan'"}],"mark":{"type":"text","fontSize":34,"align":"center","baseline":"alphabetic","color":"#111"},
"encoding":{"x":{"field":"h","type":"quantitative","scale":{"domain":[-1100,1100],"nice":false,"zero":false},"axis":null},"y":{"field":"v","type":"quantitative","scale":{"domain":[-1.25,1.25],"nice":false,"zero":false},"axis":null},"text":{"field":"t"}}}
]
}
]
}
